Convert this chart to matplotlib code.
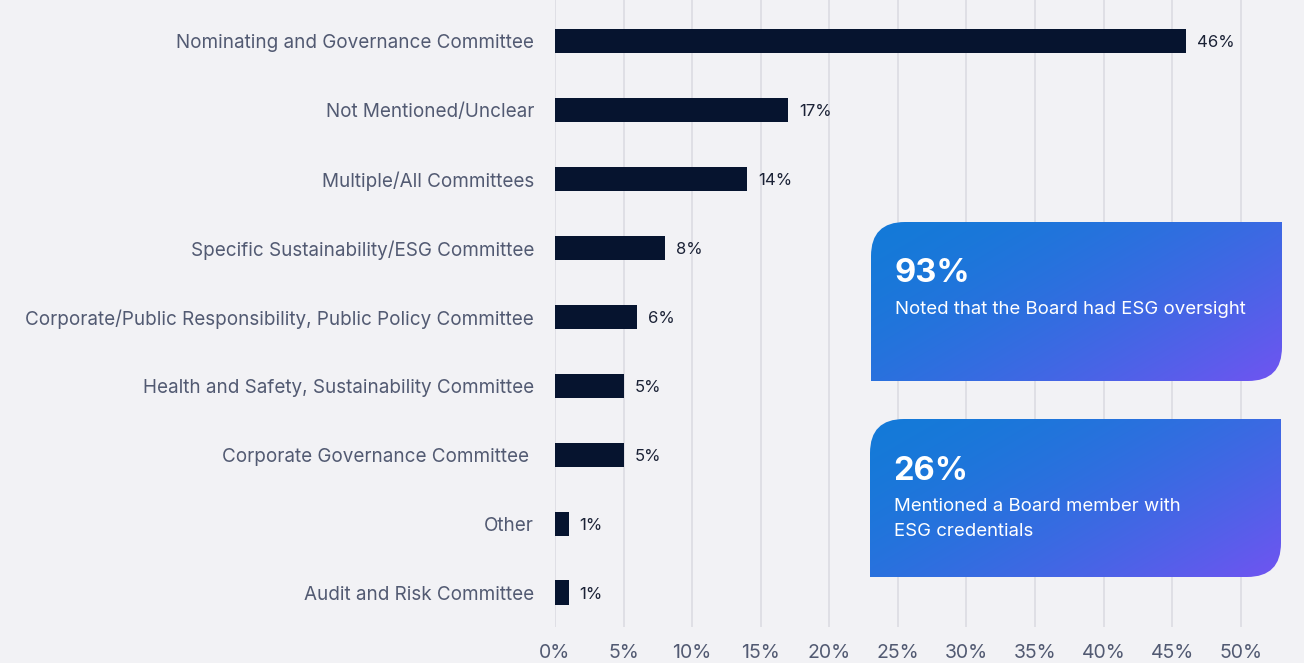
import numpy as np
import matplotlib.pyplot as plt
from matplotlib.path import Path
from matplotlib.patches import PathPatch

# ====== DATA ======
categories = [
    "Nominating and Governance Committee",
    "Not Mentioned/Unclear",
    "Multiple/All Committees",
    "Specific Sustainability/ESG Committee",
    "Corporate/Public Responsibility, Public Policy Committee",
    "Health and Safety, Sustainability Committee",
    "Corporate Governance Committee ",
    "Other",
    "Audit and Risk Committee",
]
shares = [46, 17, 14, 8, 6, 5, 5, 1, 1]
x_ticks = [0, 5, 10, 15, 20, 25, 30, 35, 40, 45, 50]

callout_values = ["93%", "26%"]
callout_texts = ["Noted that the Board had ESG oversight",
                 "Mentioned a Board member with\nESG credentials"]
# ==================

BG = "#f2f2f5"
BAR = "#06142f"
LABEL = "#525a72"
GRID = "#dcdce2"

plt.rcParams['font.family'] = ['Inter', 'DejaVu Sans']

W, H = 1304, 663
fig = plt.figure(figsize=(W / 100, H / 100), dpi=100)
fig.patch.set_facecolor(BG)

ax = fig.add_axes([555 / W, 1 - 627 / H, (1290 - 555) / W, 627 / H])
ax.set_facecolor(BG)

y = np.arange(len(categories))
ax.barh(y, shares, height=0.35, color=BAR, zorder=3)
for yi, v in zip(y, shares):
    ax.text(v + 0.8, yi, f"{v}%", va="center_baseline", ha="left",
            fontsize=12, color="#1b2236", zorder=4)

ax.set_xlim(0, 53.6)
ax.set_ylim(len(categories) - 0.5, -0.6)
ax.set_xticks(x_ticks)
ax.set_xticklabels([f"{t}%" for t in x_ticks], fontsize=14, color=LABEL)
ax.set_yticks(y)
ax.set_yticklabels(categories, fontsize=13.6, color=LABEL)
ax.tick_params(length=0)
ax.tick_params(axis="y", pad=15)
ax.tick_params(axis="x", pad=12)
ax.grid(axis="x", color=GRID, linewidth=1.2, zorder=0)
for s in ax.spines.values():
    s.set_visible(False)

# overlay in pixel coordinates for the callout boxes
ov = fig.add_axes([0, 0, 1, 1], zorder=5)
ov.set_xlim(0, W)
ov.set_ylim(H, 0)
ov.axis("off")
ov.patch.set_alpha(0)


def box_path(x0, y0, x1, y1, r):
    # rounded top-left and bottom-right corners, square elsewhere
    verts = [(x0, y1), (x0, y0 + r), (x0, y0), (x0 + r, y0),
             (x1, y0), (x1, y1 - r), (x1, y1), (x1 - r, y1),
             (x0, y1), (x0, y1)]
    codes = [Path.MOVETO, Path.LINETO, Path.CURVE3, Path.CURVE3,
             Path.LINETO, Path.LINETO, Path.CURVE3, Path.CURVE3,
             Path.LINETO, Path.CLOSEPOLY]
    return Path(verts, codes)


c0 = np.array([20, 122, 216]) / 255
c1 = np.array([112, 84, 241]) / 255

boxes = [(871, 222, 1282, 381), (870, 419, 1281, 577)]
for (x0, y0, x1, y1), big, small in zip(boxes, callout_values, callout_texts):
    patch = PathPatch(box_path(x0, y0, x1, y1, 34), facecolor="none",
                      edgecolor="none")
    ov.add_patch(patch)
    u = np.linspace(0, 1, 200)[None, :]
    v = np.linspace(0, 1, 100)[:, None]
    t = np.clip((u * 0.6 + v * 0.4), 0, 1) ** 1.6
    img = c0 + (c1 - c0) * t[..., None]
    im = ov.imshow(img, extent=(x0, x1, y1, y0), aspect="auto",
                   interpolation="bilinear", zorder=1)
    im.set_clip_path(patch)
    ov.text(x0 + 23, y0 + 52, big, color="white", fontsize=23.5,
            fontweight="bold", va="center", ha="left", zorder=2)
    ov.text(x0 + 24, y0 + 79, small, color="white", fontsize=13.4,
            va="top", ha="left", linespacing=1.62, zorder=2)

ov.set_xlim(0, W)
ov.set_ylim(H, 0)

fig.savefig("out.png", dpi=100, facecolor=BG)
